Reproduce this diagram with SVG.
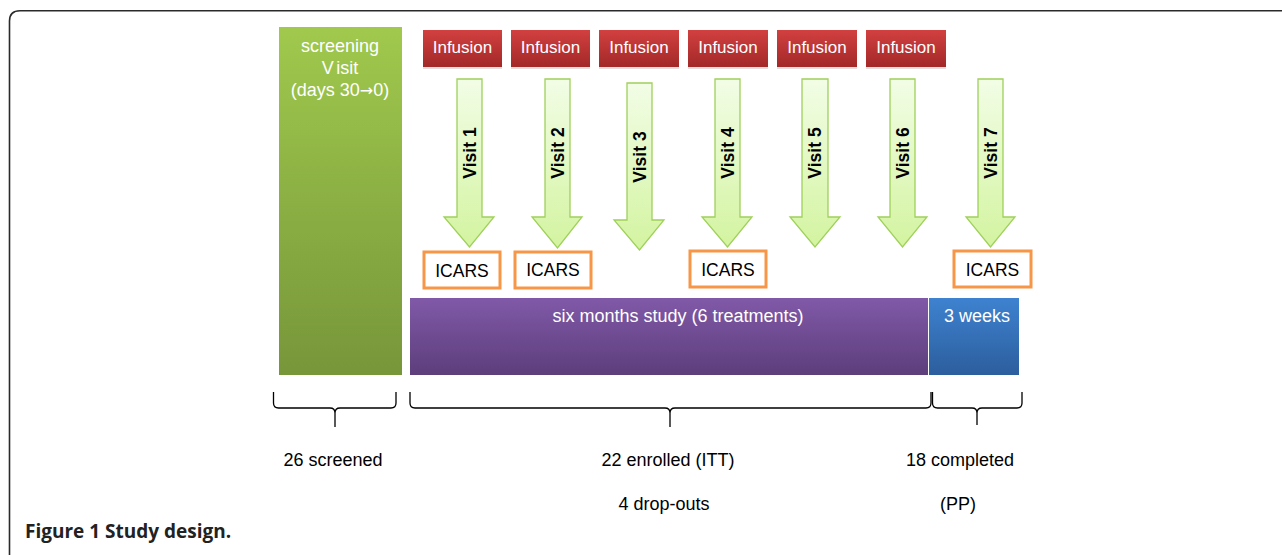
<svg xmlns="http://www.w3.org/2000/svg" width="1282" height="555" viewBox="0 0 1282 555">
<style>
.t{font-family:"Liberation Sans",Arial,sans-serif;}
.w{fill:#fff;}
.b{fill:#000;}
.inf{font-size:17px;fill:#fff;text-anchor:middle;}
.vis{font-size:17.5px;font-weight:bold;fill:#000;text-anchor:middle;}
.ic{font-size:17.5px;fill:#000;text-anchor:middle;}
.lbl{font-size:18px;fill:#000;text-anchor:middle;}
.infbox{fill:url(#gRed);}
.shadow{fill:#000;opacity:0.12;}
.arr{fill:url(#gArr);stroke:#9fd05a;stroke-width:1.3;}
.icbox{fill:#fff;stroke:#f79646;stroke-width:3;}
.brace{fill:none;stroke:#000;stroke-width:1.3;}
</style>
<defs>
<linearGradient id="gRed" x1="0" y1="0" x2="0" y2="1"><stop offset="0" stop-color="#d24040"/><stop offset="1" stop-color="#a32828"/></linearGradient>
<linearGradient id="gGreen" x1="0" y1="0" x2="0" y2="1"><stop offset="0" stop-color="#a0c94d"/><stop offset="1" stop-color="#77963a"/></linearGradient>
<linearGradient id="gPurple" x1="0" y1="0" x2="0" y2="1"><stop offset="0" stop-color="#8059a8"/><stop offset="1" stop-color="#5d3e7b"/></linearGradient>
<linearGradient id="gBlue" x1="0" y1="0" x2="0" y2="1"><stop offset="0" stop-color="#3e82d0"/><stop offset="1" stop-color="#2c5e9d"/></linearGradient>
<linearGradient id="gArr" x1="0" y1="0" x2="0" y2="1"><stop offset="0" stop-color="#f2fde6"/><stop offset="1" stop-color="#d3f4a0"/></linearGradient>
</defs>
<rect width="1282" height="555" fill="#fff"/>
<path d="M9.5,555 L9.5,21 Q9.5,10.7 20,10.7 L1282,10.7" fill="none" stroke="#2a2a2a" stroke-width="1.6"/>

<g id="screening">
<rect x="279" y="27" width="123" height="348" fill="url(#gGreen)"/>
<text class="t w" x="340" y="52" font-size="18" text-anchor="middle">screening</text>
<text class="t w" x="340" y="74" font-size="18" text-anchor="middle">V<tspan dx="3">isit</tspan></text>
<text class="t w" x="340" y="96" font-size="18" text-anchor="middle">(days 30<tspan font-family="'DejaVu Sans',sans-serif" font-size="16">→</tspan>0)</text>
</g>

<g id="infusion1"><rect class="shadow" x="423" y="32" width="79" height="37"/><rect class="infbox" x="423" y="30" width="79" height="37"/><text class="t inf" x="462.5" y="52.5">Infusion</text></g>
<g id="infusion2"><rect class="shadow" x="511" y="32" width="79" height="37"/><rect class="infbox" x="511" y="30" width="79" height="37"/><text class="t inf" x="550.5" y="52.5">Infusion</text></g>
<g id="infusion3"><rect class="shadow" x="599" y="32" width="80" height="37"/><rect class="infbox" x="599" y="30" width="80" height="37"/><text class="t inf" x="639" y="52.5">Infusion</text></g>
<g id="infusion4"><rect class="shadow" x="688" y="32" width="80" height="37"/><rect class="infbox" x="688" y="30" width="80" height="37"/><text class="t inf" x="728" y="52.5">Infusion</text></g>
<g id="infusion5"><rect class="shadow" x="777" y="32" width="80" height="37"/><rect class="infbox" x="777" y="30" width="80" height="37"/><text class="t inf" x="817" y="52.5">Infusion</text></g>
<g id="infusion6"><rect class="shadow" x="866" y="32" width="80" height="37"/><rect class="infbox" x="866" y="30" width="80" height="37"/><text class="t inf" x="906" y="52.5">Infusion</text></g>

<g id="visit1"><path class="arr" d="M457,79 H482 V217 H494 L469.5,247 L444,217 H457 Z"/><text class="t vis" transform="translate(475.5,153) rotate(-90)">Visit 1</text></g>
<g id="visit2"><path class="arr" d="M545,79 H570 V217 H582 L557.5,248 L532,217 H545 Z"/><text class="t vis" transform="translate(563.5,153) rotate(-90)">Visit 2</text></g>
<g id="visit3"><path class="arr" d="M627,83 H652 V220 H664 L639.5,250 L614,220 H627 Z"/><text class="t vis" transform="translate(645.5,157) rotate(-90)">Visit 3</text></g>
<g id="visit4"><path class="arr" d="M715,79 H740 V217 H752 L727.5,247 L702,217 H715 Z"/><text class="t vis" transform="translate(733.5,153) rotate(-90)">Visit 4</text></g>
<g id="visit5"><path class="arr" d="M802,79 H828 V217 H840 L815,247 L790,217 H802 Z"/><text class="t vis" transform="translate(821,153) rotate(-90)">Visit 5</text></g>
<g id="visit6"><path class="arr" d="M890,79 H915 V217 H927 L902.5,247 L878,217 H890 Z"/><text class="t vis" transform="translate(908.5,153) rotate(-90)">Visit 6</text></g>
<g id="visit7"><path class="arr" d="M978,79 H1003 V217 H1015 L990.5,247 L966,217 H978 Z"/><text class="t vis" transform="translate(996.5,153) rotate(-90)">Visit 7</text></g>

<g id="icars1"><rect class="icbox" x="424" y="252" width="76" height="36"/><text class="t ic" x="462" y="277">ICARS</text></g>
<g id="icars2"><rect class="icbox" x="515" y="252" width="76" height="36"/><text class="t ic" x="553" y="276">ICARS</text></g>
<g id="icars4"><rect class="icbox" x="690" y="251" width="76" height="36"/><text class="t ic" x="728" y="276">ICARS</text></g>
<g id="icars7"><rect class="icbox" x="954" y="251" width="77" height="36"/><text class="t ic" x="992.5" y="276">ICARS</text></g>

<g id="study">
<rect x="410" y="298" width="518" height="77" fill="url(#gPurple)"/>
<text class="t w" x="678" y="322" font-size="18" text-anchor="middle">six months study (6 treatments)</text>
</g>
<g id="weeks">
<rect x="929" y="298" width="90" height="77" fill="url(#gBlue)"/>
<text class="t w" x="977" y="322" font-size="18" text-anchor="middle">3 weeks</text>
</g>

<g id="connectors">
<path class="brace" d="M273.5,392 V403 Q273.5,408 278.5,408 H330 Q335,408 335,413 V427 M335,413 Q335,408 340,408 H391 Q396,408 396,403 V392"/>
<path class="brace" d="M410,392 V403 Q410,408 415,408 H665 Q670,408 670,413 V427 M670,413 Q670,408 675,408 H926 Q931,408 931,403 V392"/>
<path class="brace" d="M932.5,392 V403 Q932.5,408 937.5,408 H972 Q977,408 977,413 V425 M977,413 Q977,408 982,408 H1017 Q1022,408 1022,403 V392"/>
</g>

<g id="labels">
<text class="t lbl" x="333" y="466">26 screened</text>
<text class="t lbl" x="668" y="466">22 enrolled (ITT)</text>
<text class="t lbl" x="960" y="466">18 completed</text>
<text class="t lbl" x="664" y="510">4 drop-outs</text>
<text class="t lbl" x="958" y="510">(PP)</text>
</g>

<text x="25" y="538" font-family="'Open Sans','Noto Sans',sans-serif" font-size="19" font-weight="bold" fill="#222">Figure 1 Study design.</text>
</svg>
